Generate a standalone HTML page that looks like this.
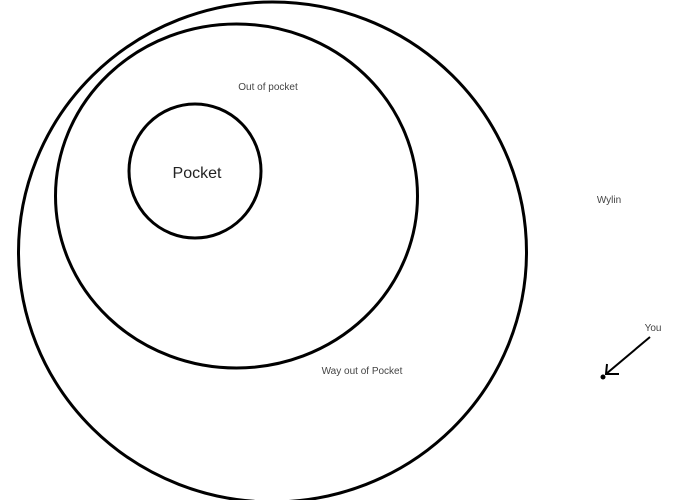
<!DOCTYPE html>
<html><head><meta charset="utf-8"><style>
html,body{margin:0;padding:0;background:#fff;width:700px;height:500px;overflow:hidden}
svg{display:block}
text{font-family:"Liberation Sans",sans-serif;fill:#444}
</style></head><body>
<svg width="700" height="500" viewBox="0 0 700 500">
<g fill="none" stroke="#000" stroke-width="3">
<ellipse cx="272.5" cy="252" rx="254" ry="250"/>
<ellipse cx="236.5" cy="196" rx="181" ry="172"/>
<ellipse cx="195" cy="171" rx="66" ry="67"/>
</g>
<text x="268" y="90" font-size="10" text-anchor="middle">Out of pocket</text>
<text x="197" y="178" font-size="16" fill="#222" text-anchor="middle" style="fill:#222">Pocket</text>
<text x="362" y="374" font-size="10" text-anchor="middle">Way out of Pocket</text>
<text x="609" y="203" font-size="10" text-anchor="middle">Wylin</text>
<text x="653" y="331" font-size="10" text-anchor="middle">You</text>
<g stroke="#000" stroke-width="2" fill="none">
<line x1="650" y1="337" x2="606" y2="374"/>
<polyline points="607,364 606,374 619,374"/>
</g>
<circle cx="603" cy="377" r="2.5" fill="#000"/>
</svg>
</body></html>
